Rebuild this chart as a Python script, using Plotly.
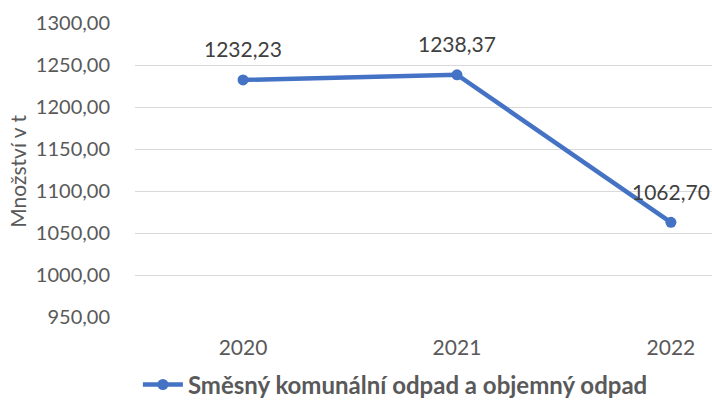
import plotly.graph_objects as go

years = ["2020", "2021", "2022"]
values = [1232.23, 1238.37, 1062.70]
labels = ["1232,23", "1238,37", "1062,70"]
series_name = "Směsný komunální odpad a objemný odpad"
y_title = "Množství v t"
y_ticks = [950, 1000, 1050, 1100, 1150, 1200, 1250, 1300]
y_tick_text = ["950,00", "1000,00", "1050,00", "1100,00", "1150,00", "1200,00", "1250,00", "1300,00"]

FONT = "Lato"
TXT = "#595959"
BLUE = "#4472C4"

fig = go.Figure()
fig.add_trace(go.Scatter(
    x=years, y=values, mode="lines+markers",
    name=series_name,
    line=dict(color=BLUE, width=4.5),
    marker=dict(color=BLUE, size=11),
    cliponaxis=False,
))

for i, (y, t) in enumerate(zip(values, labels)):
    fig.add_annotation(x=i, y=y, text=t, showarrow=False, yshift=31,
                       font=dict(family=FONT, size=21, color="#404040"))

fig.add_annotation(xref="paper", yref="paper", x=-0.203, y=0.497, text=y_title,
                   textangle=-90, showarrow=False, xanchor="center", yanchor="middle",
                   font=dict(family=FONT, size=21, color=TXT))

fig.update_layout(
    width=712, height=410,
    margin=dict(l=135, r=0, t=23, b=93, autoexpand=False),
    paper_bgcolor="white", plot_bgcolor="white",
    font=dict(family=FONT, size=20, color=TXT),
    showlegend=True,
    legend=dict(orientation="h", x=0.005, xanchor="left", y=-0.231, yanchor="middle",
                font=dict(family=FONT, size=24, color=TXT, weight="bold"),
                itemwidth=40),
    xaxis=dict(type="category", range=[-0.505, 2.192], showgrid=False, automargin=False,
               showline=False, zeroline=False, ticks="outside", ticklen=12,
               tickcolor="rgba(0,0,0,0)", tickfont=dict(size=21, color=TXT)),
    yaxis=dict(range=[950, 1300], tickvals=y_ticks, ticktext=y_tick_text, automargin=False,
               showgrid=True, gridcolor="#d9d9d9", gridwidth=1.3,
               zeroline=False, showline=False, ticks="outside", ticklen=20,
               tickcolor="rgba(0,0,0,0)", tickfont=dict(size=20, color=TXT)),
)

fig.write_html("out.html", config={"displayModeBar": False},
               post_script="document.body.style.margin='0';document.body.style.overflow='hidden';")
